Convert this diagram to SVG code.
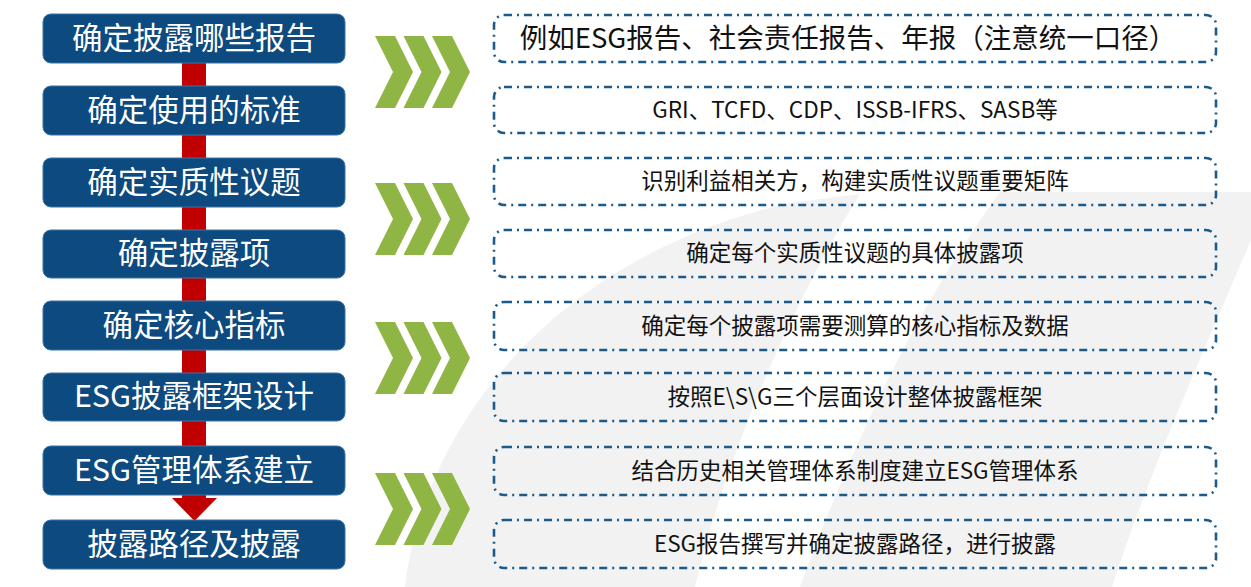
<svg xmlns="http://www.w3.org/2000/svg" width="1251" height="587" viewBox="0 0 1251 587">
<style>
.bg{fill:#f2f2f2}
.step{fill:#0c4a80;stroke:#3d72a6;stroke-width:1}
.stxt{fill:#ffffff;font-family:"Noto Sans CJK SC","Noto Sans",sans-serif;font-size:30.5px;text-anchor:middle}
.dbox{fill:none;stroke:#1b5b8c;stroke-width:2.6;stroke-dasharray:8 5 2 5}
.dtxt{fill:#111111;font-family:"Noto Sans CJK SC","Noto Sans",sans-serif;font-size:22.5px;text-anchor:middle}
.big{font-size:27.5px}
.chev{fill:#8fb545}
.link{fill:#c00000}
</style>
<defs>
<path id="chev" d="M0 0 L20 0 L38 36 L20 72 L0 72 L18 36 Z"/>
<g id="chevs">
<use href="#chev" x="0"/>
<use href="#chev" x="28.5"/>
<use href="#chev" x="57"/>
</g>
</defs>
<g id="background">
<path class="bg" d="M405 587 C425 420 560 255 790 203 L860 194 C800 290 730 440 695 587 Z"/>
<path class="bg" d="M1000 192 L1251 192 L1251 240 C1200 360 1150 470 1112 587 L800 587 C840 480 900 330 1000 192 Z"/>
</g>
<g id="connectors">
<rect class="link" x="182" y="62" width="24" height="26"/>
<rect class="link" x="182" y="134" width="24" height="26"/>
<rect class="link" x="182" y="206" width="24" height="26"/>
<rect class="link" x="182" y="277" width="24" height="26"/>
<rect class="link" x="182" y="349" width="24" height="26"/>
<rect class="link" x="182" y="421" width="24" height="27"/>
<rect class="link" x="182" y="494" width="24" height="6"/>
<polygon class="link" points="172,498 217,498 194.5,521"/>
</g>
<g id="step1"><rect class="step" x="43" y="14" width="302" height="49" rx="8"/><text class="stxt" x="194" y="49">确定披露哪些报告</text></g>
<g id="step2"><rect class="step" x="43" y="86" width="302" height="49" rx="8"/><text class="stxt" x="194" y="121">确定使用的标准</text></g>
<g id="step3"><rect class="step" x="43" y="158" width="302" height="49" rx="8"/><text class="stxt" x="194" y="193">确定实质性议题</text></g>
<g id="step4"><rect class="step" x="43" y="230" width="302" height="48" rx="8"/><text class="stxt" x="194" y="264">确定披露项</text></g>
<g id="step5"><rect class="step" x="43" y="301" width="302" height="49" rx="8"/><text class="stxt" x="194" y="336">确定核心指标</text></g>
<g id="step6"><rect class="step" x="43" y="373" width="302" height="48" rx="8"/><text class="stxt" x="194" y="407">ESG披露框架设计</text></g>
<g id="step7"><rect class="step" x="43" y="446" width="302" height="49" rx="8"/><text class="stxt" x="194" y="481">ESG管理体系建立</text></g>
<g id="step8"><rect class="step" x="43" y="520" width="302" height="49" rx="8"/><text class="stxt" x="194" y="555">披露路径及披露</text></g>
<g id="chevrons" class="chev">
<use href="#chevs" x="375" y="36"/>
<use href="#chevs" x="375" y="183"/>
<use href="#chevs" x="375" y="322"/>
<use href="#chevs" x="375" y="473"/>
</g>
<g id="note1"><rect class="dbox" x="494" y="15" width="722" height="47" rx="10"/><text class="dtxt big" x="848" y="48">例如ESG报告、社会责任报告、年报（注意统一口径）</text></g>
<g id="note2"><rect class="dbox" x="494" y="87" width="722" height="46" rx="10"/><text class="dtxt" x="855" y="118">GRI、TCFD、CDP、ISSB-IFRS、SASB等</text></g>
<g id="note3"><rect class="dbox" x="494" y="158" width="722" height="47" rx="10"/><text class="dtxt" x="855" y="189">识别利益相关方，构建实质性议题重要矩阵</text></g>
<g id="note4"><rect class="dbox" x="494" y="230" width="722" height="47" rx="10"/><text class="dtxt" x="855" y="261">确定每个实质性议题的具体披露项</text></g>
<g id="note5"><rect class="dbox" x="494" y="302" width="722" height="48" rx="10"/><text class="dtxt" x="855" y="334">确定每个披露项需要测算的核心指标及数据</text></g>
<g id="note6"><rect class="dbox" x="494" y="373" width="722" height="48" rx="10"/><text class="dtxt" x="855" y="405">按照E\S\G三个层面设计整体披露框架</text></g>
<g id="note7"><rect class="dbox" x="494" y="447" width="722" height="48" rx="10"/><text class="dtxt" x="855" y="479">结合历史相关管理体系制度建立ESG管理体系</text></g>
<g id="note8"><rect class="dbox" x="494" y="520" width="722" height="48" rx="10"/><text class="dtxt" x="855" y="552">ESG报告撰写并确定披露路径，进行披露</text></g>
</svg>
